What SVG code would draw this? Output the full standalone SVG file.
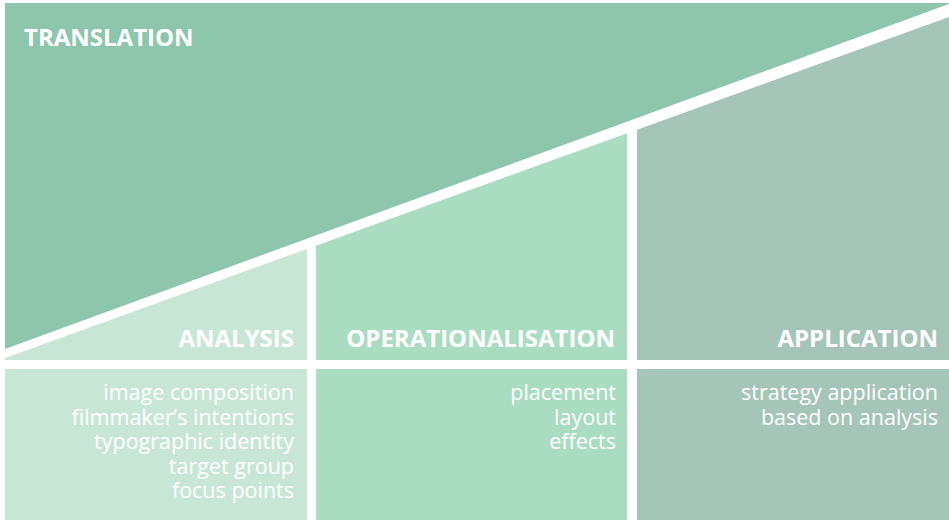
<svg xmlns="http://www.w3.org/2000/svg" width="949" height="520" viewBox="0 0 949 520">
  <style>
    .head { font-family: "Open Sans", "Liberation Sans", sans-serif; font-weight: 700; font-size: 24px; fill: #ffffff; }
    .body { font-family: "Open Sans", "Liberation Sans", sans-serif; font-weight: 400; font-size: 21.5px; fill: #ffffff; }
    .r { text-anchor: end; }
    .c-trans { fill: #8dc5ad; }
    .c-ana { fill: #c8e6d6; }
    .c-op { fill: #aadcc1; }
    .c-app { fill: #a5c5b8; }
  </style>
  <rect x="0" y="0" width="949" height="520" fill="#ffffff"/>

  <g id="translation">
    <polygon class="c-trans" points="5,3 949,3 949,4 5,349"/>
    <text class="head" x="24" y="46">TRANSLATION</text>
  </g>

  <g id="analysis">
    <polygon class="c-ana" points="5,358 307,248.9 307,360 5,360"/>
    <text class="head r" x="294" y="347">ANALYSIS</text>
  </g>

  <g id="operationalisation">
    <polygon class="c-op" points="316,245.7 627,133.3 627,360 316,360"/>
    <text class="head r" x="615" y="347">OPERATIONALISATION</text>
  </g>

  <g id="application">
    <polygon class="c-app" points="637,129.7 949,17 949,360 637,360"/>
    <text class="head r" x="938" y="347">APPLICATION</text>
  </g>

  <g id="analysis-details">
    <rect class="c-ana" x="5" y="369" width="302" height="151"/>
    <text class="body r" x="294" y="400">image composition</text>
    <text class="body r" x="294" y="424.5">filmmaker’s intentions</text>
    <text class="body r" x="294" y="449">typographic identity</text>
    <text class="body r" x="294" y="473.5">target group</text>
    <text class="body r" x="294" y="498">focus points</text>
  </g>

  <g id="operationalisation-details">
    <rect class="c-op" x="316" y="369" width="311" height="151"/>
    <text class="body r" x="616" y="400">placement</text>
    <text class="body r" x="616" y="424.5">layout</text>
    <text class="body r" x="616" y="449">effects</text>
  </g>

  <g id="application-details">
    <rect class="c-app" x="637" y="369" width="312" height="151"/>
    <text class="body r" x="938" y="400">strategy application</text>
    <text class="body r" x="938" y="424.5">based on analysis</text>
  </g>

  <g id="connectors"></g>
</svg>
